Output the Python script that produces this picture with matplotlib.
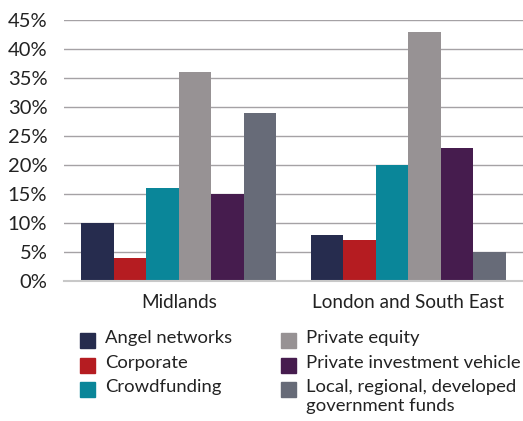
import matplotlib
matplotlib.use("Agg")
import matplotlib.pyplot as plt
import numpy as np
from matplotlib.patches import Rectangle
from matplotlib.ticker import PercentFormatter

regions = ["Midlands", "London and South East"]
series = ["Angel networks", "Corporate", "Crowdfunding",
          "Private equity", "Private investment vehicle",
          "Local, regional, developed\ngovernment funds"]
colors = ["#262c4e", "#b51c21", "#0a8699", "#979294", "#461c4e", "#676b78"]
values = [
    [10, 8],   # Angel networks
    [4, 7],    # Corporate
    [16, 20],  # Crowdfunding
    [36, 43],  # Private equity
    [15, 23],  # Private investment vehicle
    [29, 5],   # Local, regional, developed government funds
]

plt.rcParams['font.family'] = ['Lato', 'DejaVu Sans']
text_col = "#222222"

fig = plt.figure(figsize=(5.23, 4.21), dpi=100)
ax = fig.add_axes([0.1224, 0.3325, 0.8776, 0.62])

x = np.arange(len(regions))
n = len(series)
w = 0.85 / n
for i in range(n):
    ax.bar(x - 0.425 + w * (i + 0.5), values[i], w, color=colors[i], zorder=3)

ax.set_xlim(-0.5, 1.5)
ax.set_ylim(0, 45)
ax.set_yticks(np.arange(0, 46, 5))
ax.yaxis.set_major_formatter(PercentFormatter(decimals=0))
ax.set_xticks(x)
ax.set_xticklabels(regions)
ax.grid(axis='y', color='#a5a2a5', lw=1, zorder=0)
for s in ['top', 'right', 'left']:
    ax.spines[s].set_visible(False)
ax.spines['bottom'].set_color('#c8c8c8')
ax.spines['bottom'].set_linewidth(1.5)
ax.spines['bottom'].set_zorder(4)
ax.tick_params(axis='y', length=0, pad=12, labelsize=14.5, labelcolor=text_col)
ax.tick_params(axis='x', length=0, pad=9, labelsize=13.6, labelcolor=text_col)

# legend, drawn by hand in two columns
col_x = [80 / 523, 281 / 523]
row_y = [340 / 421, 365 / 421, 389 / 421]
sq_w, sq_h = 15 / 523, 15 / 421
for i, (lab, c) in enumerate(zip(series, colors)):
    cx = col_x[i // 3]
    cy = 1 - row_y[i % 3]
    fig.add_artist(Rectangle((cx, cy - sq_h / 2), sq_w, sq_h,
                             transform=fig.transFigure, color=c))
    fig.text(cx + 25 / 523, cy + 10 / 421, lab, fontsize=13.3, color=text_col,
             va='top', ha='left', linespacing=1.2)

plt.savefig("out.png", dpi=100)
